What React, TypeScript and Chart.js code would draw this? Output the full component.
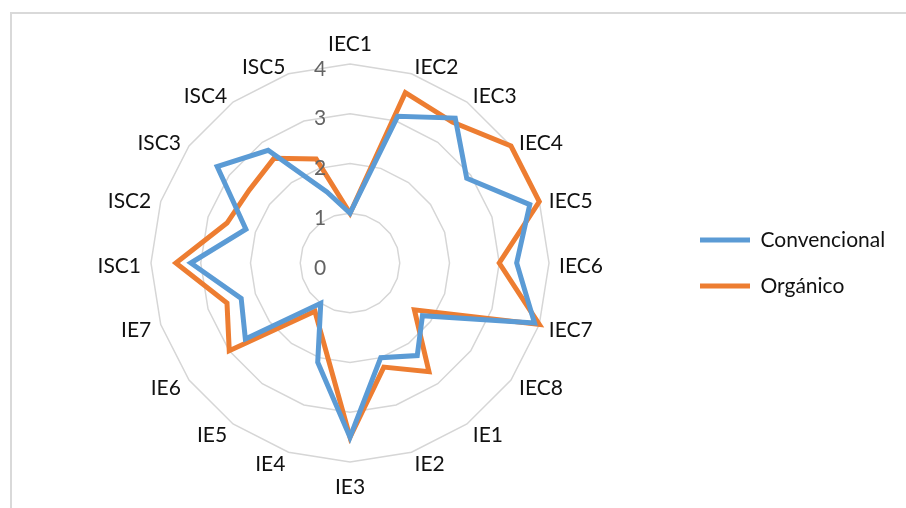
import { useEffect, useRef } from 'react';
import { Chart, registerables } from 'chart.js';

Chart.register(...registerables);

const categories = [
  'IEC1', 'IEC2', 'IEC3', 'IEC4', 'IEC5', 'IEC6', 'IEC7', 'IEC8',
  'IE1', 'IE2', 'IE3', 'IE4', 'IE5', 'IE6', 'IE7',
  'ISC1', 'ISC2', 'ISC3', 'ISC4', 'ISC5',
];
const convencional = [1.0, 3.1, 3.6, 2.9, 3.8, 3.35, 3.9, 1.8, 2.3, 2.0, 3.5, 2.1, 1.0, 2.6, 2.3, 3.2, 2.2, 3.3, 2.8, 1.5];
const organico = [1.0, 3.6, 3.5, 4.0, 4.0, 3.0, 4.0, 1.6, 2.7, 2.2, 3.5, 1.7, 1.2, 3.0, 2.6, 3.5, 2.6, 2.5, 2.6, 2.2];
const seriesNames = ['Convencional', 'Orgánico'];
const seriesColors = ['#5B9BD5', '#ED7D31'];
const scaleMin = 0;
const scaleMax = 4;
const scaleStep = 1;

const FONT = 'Lato';
const FS = 21;
const W = 906;
const H = 508;

const labelsPlugin = {
  id: 'excelRadarLabels',
  afterDatasetsDraw(chart: any) {
    const scale = chart.scales.r;
    const ctx = chart.ctx;
    const r = scale.drawingArea;
    const xC = scale.xCenter;
    const yC = scale.yCenter;
    const cap = FS * 0.72;
    ctx.save();
    ctx.font = `${FS}px ${FONT}`;
    ctx.textBaseline = 'alphabetic';
    // tick labels
    ctx.fillStyle = '#636363';
    ctx.textAlign = 'center';
    scale.ticks.forEach((t: any) => {
      const y = yC - scale.getDistanceFromCenterForValue(t.value) + 4;
      ctx.fillText(String(t.value), xC - 30, y + cap / 2);
    });
    // point labels
    ctx.fillStyle = '#111111';
    const labels: string[] = chart.data.labels;
    const n = labels.length;
    labels.forEach((lab, i) => {
      const deg = Math.round((i * 360) / n);
      let x: number;
      let cy: number;
      if (deg === 0) {
        ctx.textAlign = 'center';
        x = xC;
        cy = yC - r - 21;
      } else if (deg === 180) {
        ctx.textAlign = 'center';
        x = xC;
        cy = yC + r + 24;
      } else {
        const p = scale.getPointPosition(i, r + 10);
        ctx.textAlign = deg < 180 ? 'left' : 'right';
        x = p.x;
        cy = p.y + 2;
      }
      ctx.fillText(lab, x, cy + cap / 2);
    });
    ctx.restore();
  },
};

export default function App() {
  const ref = useRef<HTMLCanvasElement | null>(null);

  useEffect(() => {
    if (!ref.current) return;
    const m = document.createElement('canvas').getContext('2d')!;
    m.font = `${FS}px ${FONT}`;
    const textW = Math.max(...seriesNames.map((s) => m.measureText(s).width));
    const legPad = 25;
    const boxW = 50;
    const legendW = legPad + boxW + FS / 2 + textW + 10;
    const R = 675;
    const padR = Math.max(0, W - R - legendW);

    const chart = new Chart(ref.current, {
      type: 'radar',
      data: {
        labels: categories,
        datasets: [
          {
            label: seriesNames[0],
            data: convencional,
            borderColor: seriesColors[0],
            backgroundColor: seriesColors[0],
            borderWidth: 5,
            fill: false,
            pointRadius: 0,
            pointHoverRadius: 0,
            tension: 0,
          },
          {
            label: seriesNames[1],
            data: organico,
            borderColor: seriesColors[1],
            backgroundColor: seriesColors[1],
            borderWidth: 5,
            fill: false,
            pointRadius: 0,
            pointHoverRadius: 0,
            tension: 0,
          },
        ],
      },
      options: {
        responsive: false,
        animation: false,
        layout: { padding: { left: 25, top: 64, bottom: 46, right: padR } },
        scales: {
          r: {
            min: scaleMin,
            max: scaleMax,
            ticks: { stepSize: scaleStep, display: false },
            grid: { color: '#d6d6d6', lineWidth: 1.5 },
            angleLines: { display: false },
            pointLabels: { display: false },
          },
        },
        plugins: {
          tooltip: { enabled: false },
          legend: {
            position: 'right',
            align: 'center',
            labels: {
              usePointStyle: true,
              pointStyle: 'line',
              pointStyleWidth: boxW,
              boxWidth: boxW,
              padding: legPad,
              color: '#111111',
              font: { family: FONT, size: FS },
            },
          },
        },
      },
      plugins: [labelsPlugin],
    });
    return () => chart.destroy();
  }, []);

  return (
    <div style={{ position: 'absolute', left: 0, top: 0, width: W, height: H, overflow: 'hidden', background: '#fff' }}>
      <div
        style={{
          position: 'absolute',
          left: 10,
          top: 12,
          width: W + 20,
          height: H + 20,
          border: '2px solid #d9d9d9',
          boxSizing: 'border-box',
        }}
      />
      <canvas ref={ref} width={W} height={H} style={{ position: 'absolute', left: 0, top: 0, width: W, height: H }} />
    </div>
  );
}
